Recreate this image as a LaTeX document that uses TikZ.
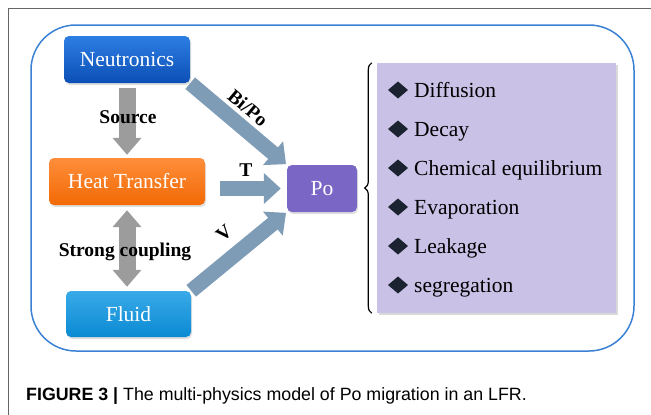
\documentclass[tikz,border=0pt]{standalone}
\usepackage{fontspec}
\setmainfont{Liberation Serif}
\newfontfamily\capfont{Liberation Sans}
\usetikzlibrary{arrows.meta,shadows,calc,decorations.pathreplacing}

\definecolor{neutop}{HTML}{2C7EE3}
\definecolor{neubot}{HTML}{0C4FB6}
\definecolor{httop}{HTML}{FF8D3A}
\definecolor{htbot}{HTML}{F26A05}
\definecolor{fltop}{HTML}{3AAAE8}
\definecolor{flbot}{HTML}{0A8AD3}
\definecolor{pofill}{HTML}{7A67C5}
\definecolor{lstfill}{HTML}{C9C1E6}
\definecolor{flowblue}{HTML}{7E9CB6}
\definecolor{arrgray}{HTML}{9C9C9C}
\definecolor{framebl}{HTML}{3A80D4}
\definecolor{bulletcol}{HTML}{1B2330}

\newcommand{\bx}{\fontsize{21.5}{24}\selectfont}
\newcommand{\lb}{\fontsize{19.5}{22}\selectfont\bfseries}

\begin{document}
\begin{tikzpicture}[x=1pt,y=-1pt,
  box/.style={rounded corners=5pt,minimum height=47pt,text=white,font=\bx,
    drop shadow={opacity=0.25,shadow xshift=1pt,shadow yshift=-2pt}},
  flow/.style={draw=flowblue,line width=15pt,-{Triangle[length=17pt,width=30pt]}},
  link/.style={draw=arrgray,line width=17pt},
  gtip/.tip={Triangle[length=17pt,width=28pt]},
  lbl/.style={font=\lb,inner sep=1pt},
  item/.style={anchor=base west,font=\bx,inner sep=0pt}]
   \useasboundingbox (0,0) rectangle (651,415);
   \draw[black!60,line width=1pt] (8,415) -- (8,8) -- (651,8);
   \draw[framebl,line width=1.5pt,rounded corners=45pt] (31,25) rectangle (634,351);

   \node[box,top color=neutop,bottom color=neubot,minimum width=126pt] (neu) at (127,59.5) {Neutronics};
   \node[box,top color=httop,bottom color=htbot,minimum width=156pt] (ht) at (127,181.5) {Heat Transfer};
   \node[box,top color=fltop,bottom color=flbot,minimum width=125pt,minimum height=46pt] (fl) at (128.5,314) {Fluid};
   \node[box,fill=pofill,minimum width=70pt] (po) at (322,188.5) {Po};
   \node[fill=lstfill,minimum width=239pt,minimum height=250pt,
     drop shadow={opacity=0.3,shadow xshift=2pt,shadow yshift=-2pt}] (lst) at (496.5,188) {};

   \draw[link,-gtip,shorten <=5pt,shorten >=3pt] (neu.south) -- (ht.north);
   \draw[link,gtip-gtip,shorten <=5pt,shorten >=4pt] (ht.south) -- (ht.south |- fl.north);
   \draw[flow,shorten >=1pt] (neu.south east) -- (po.north west);
   \draw[flow,shorten >=6pt] ($(ht.east |- po.west)+(15,0)$) -- (po.west);
   \draw[flow,shorten >=1pt] (fl.north east) -- (po.south west);

   \node[lbl] (src) at (128,117) {Source};
   \node[lbl] (cpl) at (125,252) {Strong coupling};
   \node[lbl,rotate=-40] (bipo) at (248,108) {Bi/Po};
   \node[lbl] (tl) at (246,170) {T};
   \node[lbl,rotate=40] (vl) at (224,233) {V};

   \draw[decorate,decoration={brace,amplitude=7pt},line width=1.2pt]
     ([xshift=-5pt]lst.south west) -- ([xshift=-5pt]lst.north west);
   \foreach \itm [count=\i] in {Diffusion,Decay,Chemical equilibrium,Evaporation,Leakage,segregation}{
     \pgfmathsetmacro{\yy}{51+39*\i}
     \fill[bulletcol] (398,\yy) +(-10,0) -- +(0,-8.5) -- +(10,0) -- +(0,8.5) -- cycle;
     \node[item] (it\i) at (414,\yy+7) {\itm};
   }

   \node[anchor=base west,inner sep=0pt,font=\capfont\fontsize{17.8}{20}\selectfont] (cap) at (26,400)
     {\textbf{FIGURE 3 |} The multi-physics model of Po migration in an LFR.};
\end{tikzpicture}
\end{document}
